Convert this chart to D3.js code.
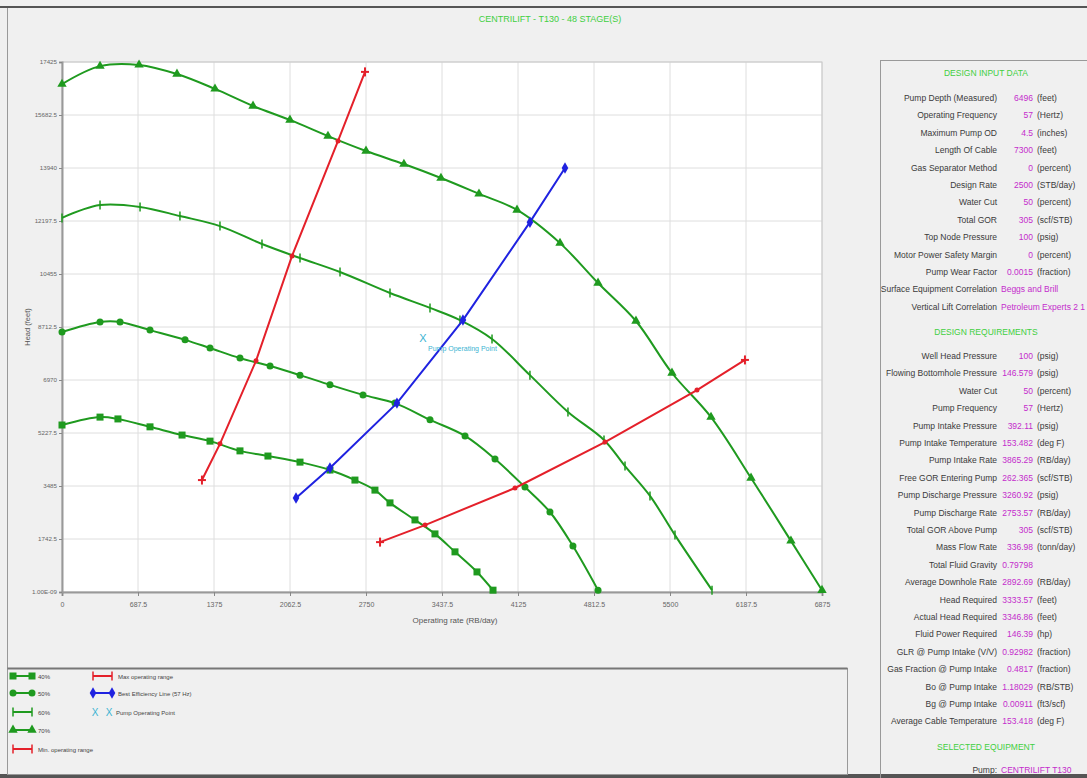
<!DOCTYPE html>
<html>
<head>
<meta charset="utf-8">
<script src="https://cdn.jsdelivr.net/npm/d3@7"></script>
<style>
  body { margin: 0; background: #f0f0f0; }
  text { font-family: "Liberation Sans", Arial, sans-serif; }
</style>
</head>
<body>
<div id="chart"></div>
<script>
// pump performance curves (rate in RB/day, head in feet)
var rate40 = [0, 344, 506, 796, 1086, 1339, 1610, 1863, 2153, 2424, 2650, 2831, 2967, 3193, 3374, 3555, 3754, 3899];
var head40 = [5490, 5750, 5690, 5430, 5160, 4960, 4640, 4470, 4270, 4010, 3680, 3350, 2930, 2370, 1910, 1320, 660, 60];

var rate50 = [0, 344, 525, 796, 1113, 1339, 1610, 1882, 2153, 2424, 2723, 3012, 3329, 3646, 3917, 4188, 4414, 4622, 4849];
var head50 = [8550, 8880, 8880, 8610, 8290, 8020, 7690, 7430, 7130, 6810, 6480, 6210, 5660, 5130, 4370, 3450, 2630, 1510, 60];

var rate60 = [0, 344, 706, 1067, 1429, 1809, 2153, 2515, 2967, 3329, 3600, 3890, 4233, 4577, 4903, 5093, 5319, 5545, 5880];
var head60 = [12300, 12720, 12660, 12360, 12030, 11440, 10980, 10520, 9830, 9340, 8940, 8320, 7130, 5920, 5000, 4140, 3160, 1870, 60];

var rate70 = [0, 344, 697, 1040, 1384, 1728, 2062, 2406, 2750, 3093, 3428, 3772, 4116, 4505, 4849, 5192, 5518, 5871, 6233, 6594, 6875];
var head70 = [16700, 17290, 17330, 17030, 16540, 15980, 15520, 14990, 14500, 14070, 13610, 13090, 12560, 11470, 10160, 8910, 7200, 5750, 3750, 1680, 60];

var maxRate = [1266, 1429, 1755, 2081, 2497, 2741];
var maxHead = [3680, 4870, 7600, 11050, 14830, 17100];

var minRate = [2877, 3284, 4098, 4912, 5744, 6178];
var minHead = [1640, 2200, 3420, 4930, 6640, 7630];

var bepRate = [2117, 2424, 3030, 3627, 4233, 4550];
var bepHead = [3090, 4080, 6210, 8940, 12160, 13940];

var opRate = [3266];
var opHead = [8350];

var xTicks = [0, 687.5, 1375, 2062.5, 2750, 3437.5, 4125, 4812.5, 5500, 6187.5, 6875];
var xTickLabels = ["0", "687.5", "1375", "2062.5", "2750", "3437.5", "4125", "4812.5", "5500", "6187.5", "6875"];
var yTicks = [0, 1742.5, 3485, 5227.5, 6970, 8712.5, 10455, 12197.5, 13940, 15682.5, 17425];
var yTickLabels = ["1.00E-09", "1742.5", "3485", "5227.5", "6970", "8712.5", "10455", "12197.5", "13940", "15682.5", "17425"];

var inputLabels = ["Pump Depth (Measured)", "Operating Frequency", "Maximum Pump OD", "Length Of Cable",
    "Gas Separator Method", "Design Rate", "Water Cut", "Total GOR", "Top Node Pressure",
    "Motor Power Safety Margin", "Pump Wear Factor", "Surface Equipment Correlation", "Vertical Lift Correlation"];
var inputValues = ["6496", "57", "4.5", "7300", "0", "2500", "50", "305", "100", "0", "0.0015", "Beggs and Brill", "Petroleum Experts 2 1"];
var inputUnits = ["(feet)", "(Hertz)", "(inches)", "(feet)", "(percent)", "(STB/day)", "(percent)", "(scf/STB)", "(psig)", "(percent)", "(fraction)", "", ""];

var reqLabels = ["Well Head Pressure", "Flowing Bottomhole Pressure", "Water Cut", "Pump Frequency",
    "Pump Intake Pressure", "Pump Intake Temperature", "Pump Intake Rate", "Free GOR Entering Pump",
    "Pump Discharge Pressure", "Pump Discharge Rate", "Total GOR Above Pump", "Mass Flow Rate",
    "Total Fluid Gravity", "Average Downhole Rate", "Head Required", "Actual Head Required",
    "Fluid Power Required", "GLR @ Pump Intake (V/V)", "Gas Fraction @ Pump Intake", "Bo @ Pump Intake",
    "Bg @ Pump Intake", "Average Cable Temperature"];
var reqValues = ["100", "146.579", "50", "57", "392.11", "153.482", "3865.29", "262.365", "3260.92", "2753.57",
    "305", "336.98", "0.79798", "2892.69", "3333.57", "3346.86", "146.39", "0.92982", "0.4817", "1.18029",
    "0.00911", "153.418"];
var reqUnits = ["(psig)", "(psig)", "(percent)", "(Hertz)", "(psig)", "(deg F)", "(RB/day)", "(scf/STB)", "(psig)",
    "(RB/day)", "(scf/STB)", "(tonn/day)", "", "(RB/day)", "(feet)", "(feet)", "(hp)", "(fraction)", "(fraction)",
    "(RB/STB)", "(ft3/scf)", "(deg F)"];

var green = "#1f9a1f", red = "#e4202a", blue = "#1f22e0", cyan = "#3cb4d2";
var magenta = "#c42ccc", headGreen = "#3fcf3f";

var margin = { top: 62, left: 62 },
    width = 760,
    height = 530;

var svg = d3.select("#chart").append("svg").attr("width", 1087).attr("height", 778);

svg.append("rect").attr("width", 1087).attr("height", 778).attr("fill", "#f0f0f0");
svg.append("rect").attr("x", 0).attr("y", 6).attr("width", 1087).attr("height", 2).attr("fill", "#555");
svg.append("rect").attr("x", 0).attr("y", 774).attr("width", 1087).attr("height", 4).attr("fill", "#555");
svg.append("line").attr("x1", 7.5).attr("x2", 7.5).attr("y1", 8).attr("y2", 774).attr("stroke", "#999");

svg.append("text")
    .attr("x", 550).attr("y", 22)
    .attr("text-anchor", "middle")
    .attr("font-size", 9)
    .attr("fill", headGreen)
    .text("CENTRILIFT - T130 - 48 STAGE(S)");

var g = svg.append("g").attr("transform", "translate(" + margin.left + "," + margin.top + ")");

var x = d3.scaleLinear().domain([0, 6875]).range([0, width]);
var y = d3.scaleLinear().domain([0, 17425]).range([height, 0]);

g.append("rect").attr("width", width).attr("height", height).attr("fill", "#fff");

g.append("g").selectAll("line").data(xTicks).enter().append("line")
    .attr("x1", function (d) { return x(d); }).attr("x2", function (d) { return x(d); })
    .attr("y1", 0).attr("y2", height)
    .attr("stroke", "#dedede");
g.append("g").selectAll("line").data(yTicks).enter().append("line")
    .attr("y1", function (d) { return y(d); }).attr("y2", function (d) { return y(d); })
    .attr("x1", 0).attr("x2", width)
    .attr("stroke", "#dedede");
g.append("rect").attr("width", width).attr("height", height)
    .attr("fill", "none").attr("stroke", "#c8c8c8");

var xAxis = g.append("g")
    .attr("transform", "translate(0," + height + ")")
    .call(d3.axisBottom(x).tickValues(xTicks).tickSize(4).tickPadding(6)
        .tickFormat(function (d, i) { return xTickLabels[i]; }));
var yAxis = g.append("g")
    .call(d3.axisLeft(y).tickValues(yTicks).tickSize(3).tickPadding(2)
        .tickFormat(function (d, i) { return yTickLabels[i]; }));
[xAxis, yAxis].forEach(function (a) {
    a.selectAll("text").attr("font-size", 7).attr("fill", "#666").attr("font-family", "Liberation Sans, Arial");
    a.selectAll("line").attr("stroke", "#888");
    a.select(".domain").attr("stroke", "#999").attr("stroke-width", 2);
});
yAxis.selectAll("text").attr("font-size", 6.2);

svg.append("text")
    .attr("x", 455).attr("y", 623)
    .attr("text-anchor", "middle").attr("font-size", 8).attr("fill", "#555")
    .text("Operating rate   (RB/day)");
svg.append("text")
    .attr("transform", "translate(30,327) rotate(-90)")
    .attr("text-anchor", "middle").attr("font-size", 7.5).attr("fill", "#555")
    .text("Head   (feet)");

function pts(xs, ys) {
    return xs.map(function (d, i) { return [d, ys[i]]; });
}

var line = d3.line()
    .x(function (d) { return x(d[0]); })
    .y(function (d) { return y(d[1]); })
    .curve(d3.curveCatmullRom);
var straight = d3.line()
    .x(function (d) { return x(d[0]); })
    .y(function (d) { return y(d[1]); });

function drawSeries(data, color, lineGen, marker) {
    g.append("path").datum(data)
        .attr("d", lineGen)
        .attr("fill", "none").attr("stroke", color).attr("stroke-width", 2);
    var m = g.append("g");
    data.forEach(function (d, i) {
        marker(m, x(d[0]), y(d[1]), color, i, data.length);
    });
}

function square(m, cx, cy, c) {
    m.append("rect").attr("x", cx - 3.5).attr("y", cy - 3.5).attr("width", 7).attr("height", 7).attr("fill", c);
}
function dot(m, cx, cy, c) {
    m.append("circle").attr("cx", cx).attr("cy", cy).attr("r", 3.5).attr("fill", c);
}
function bar(m, cx, cy, c) {
    m.append("line").attr("x1", cx).attr("x2", cx).attr("y1", cy - 4.5).attr("y2", cy + 4.5)
        .attr("stroke", c).attr("stroke-width", 1.5);
}
function tri(m, cx, cy, c) {
    m.append("path").attr("d", d3.symbol().type(d3.symbolTriangle).size(38)())
        .attr("transform", "translate(" + cx + "," + cy + ")").attr("fill", c);
}
function endBars(m, cx, cy, c, i, n) {
    if (i === 0 || i === n - 1) {
        m.append("line").attr("x1", cx - 4).attr("x2", cx + 4).attr("y1", cy).attr("y2", cy)
            .attr("stroke", c).attr("stroke-width", 2);
        m.append("line").attr("x1", cx).attr("x2", cx).attr("y1", cy - 4.5).attr("y2", cy + 4.5)
            .attr("stroke", c).attr("stroke-width", 2);
    } else {
        m.append("circle").attr("cx", cx).attr("cy", cy).attr("r", 2.5).attr("fill", c);
    }
}
function diamond(m, cx, cy, c) {
    m.append("path").attr("d", d3.symbol().type(d3.symbolDiamond).size(38)())
        .attr("transform", "translate(" + cx + "," + cy + ")").attr("fill", c);
}

drawSeries(pts(rate40, head40), green, line, square);
drawSeries(pts(rate50, head50), green, line, dot);
drawSeries(pts(rate60, head60), green, line, bar);
drawSeries(pts(rate70, head70), green, line, tri);
drawSeries(pts(maxRate, maxHead), red, straight, endBars);
drawSeries(pts(minRate, minHead), red, straight, endBars);
drawSeries(pts(bepRate, bepHead), blue, straight, diamond);

// operating point
g.append("text")
    .attr("x", x(opRate[0])).attr("y", y(opHead[0]) + 4)
    .attr("text-anchor", "middle").attr("font-size", 11).attr("fill", cyan)
    .text("X");
g.append("text")
    .attr("x", x(opRate[0]) + 5).attr("y", y(opHead[0]) + 13)
    .attr("font-size", 7).attr("fill", cyan)
    .text("Pump Operating Point");

// legend
svg.append("rect").attr("x", 7.5).attr("y", 668.5).attr("width", 840).attr("height", 106)
    .attr("fill", "#f0f0f0").attr("stroke", "#999");
svg.append("line").attr("x1", 7.5).attr("x2", 847.5).attr("y1", 668.5).attr("y2", 668.5)
    .attr("stroke", "#777").attr("stroke-width", 2);

var legendItems = [
    { label: "40%", color: green, marker: square, col: 0, row: 0 },
    { label: "50%", color: green, marker: dot, col: 0, row: 1 },
    { label: "60%", color: green, marker: bar, col: 0, row: 2 },
    { label: "70%", color: green, marker: tri, col: 0, row: 3 },
    { label: "Min. operating range", color: red, marker: bar, col: 0, row: 4 },
    { label: "Max operating range", color: red, marker: bar, col: 1, row: 0 },
    { label: "Best Efficiency Line (57 Hz)", color: blue, marker: diamond, col: 1, row: 1 }
];
var legendRows = [676, 693, 712, 730, 749];
var legendCols = [13, 93];
var lg = svg.append("g");
legendItems.forEach(function (d) {
    var x0 = legendCols[d.col], y0 = legendRows[d.row];
    lg.append("line").attr("x1", x0).attr("x2", x0 + 19).attr("y1", y0).attr("y2", y0)
        .attr("stroke", d.color).attr("stroke-width", 2);
    var s = lg.append("g");
    d.marker(s, x0, y0, d.color);
    d.marker(s, x0 + 19, y0, d.color);
    lg.append("text").attr("x", x0 + 25).attr("y", y0 + 2.5).attr("font-size", 6).attr("fill", "#444").text(d.label);
});
lg.append("text").attr("x", 95).attr("y", legendRows[2] + 4).attr("text-anchor", "middle")
    .attr("font-size", 10).attr("fill", cyan).text("X");
lg.append("text").attr("x", 109).attr("y", legendRows[2] + 4).attr("text-anchor", "middle")
    .attr("font-size", 10).attr("fill", cyan).text("X");
lg.append("text").attr("x", 116).attr("y", legendRows[2] + 2.5).attr("font-size", 6).attr("fill", "#444")
    .text("Pump Operating Point");

// right panel
var panel = svg.append("g");
svg.append("defs").append("clipPath").attr("id", "panelClip")
    .append("rect").attr("x", 880).attr("y", 60).attr("width", 207).attr("height", 714);
panel.attr("clip-path", "url(#panelClip)");
svg.append("rect").attr("x", 880.5).attr("y", 60.5).attr("width", 210).attr("height", 720)
    .attr("fill", "none").attr("stroke", "#999");

function heading(txt, yy) {
    panel.append("text").attr("x", 986).attr("y", yy + 3).attr("text-anchor", "middle")
        .attr("font-size", 8.5).attr("fill", headGreen).text(txt);
}
function row(label, value, unit, yy) {
    panel.append("text").attr("x", 997).attr("y", yy + 3).attr("text-anchor", "end")
        .attr("font-size", 8.5).attr("fill", "#3a3a3a").text(label);
    if (unit === "" && isNaN(+value)) {
        panel.append("text").attr("x", 1001).attr("y", yy + 3)
            .attr("font-size", 8.5).attr("fill", magenta).text(value);
    } else {
        panel.append("text").attr("x", 1033).attr("y", yy + 3).attr("text-anchor", "end")
            .attr("font-size", 8.5).attr("fill", magenta).text(value);
        panel.append("text").attr("x", 1037).attr("y", yy + 3)
            .attr("font-size", 8.5).attr("fill", "#3a3a3a").text(unit);
    }
}

heading("DESIGN INPUT DATA", 73);
inputLabels.forEach(function (d, i) {
    row(d, inputValues[i], inputUnits[i], 98 + i * 17.4);
});
heading("DESIGN REQUIREMENTS", 332);
reqLabels.forEach(function (d, i) {
    row(d, reqValues[i], reqUnits[i], 356 + i * 17.4);
});
heading("SELECTED EQUIPMENT", 747);
row("Pump:", "CENTRILIFT T130", "", 770);
</script>
</body>
</html>
